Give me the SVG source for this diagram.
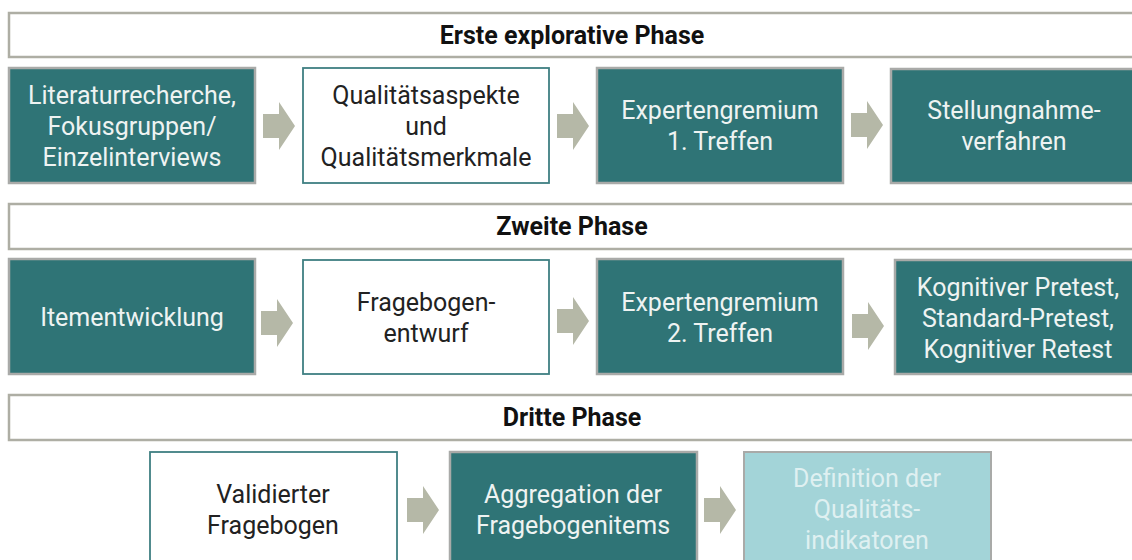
<svg xmlns="http://www.w3.org/2000/svg" width="1132" height="560" viewBox="0 0 1132 560">
<defs>
<style>
.bar{fill:#ffffff;stroke:#aeaea4;stroke-width:2.5}
.dark{fill:#2f7476;stroke:#a9aaa8;stroke-width:2.5}
.light{fill:#ffffff;stroke:#3f7f82;stroke-width:1.8}
.pale{fill:#a3d4d8;stroke:#a9aaa8;stroke-width:2}
.ttl{font-family:Roboto,"Liberation Sans",sans-serif;font-weight:bold;font-size:25px;fill:#111;text-anchor:middle}
.tw{font-family:Roboto,"Liberation Sans",sans-serif;font-size:25px;fill:#eef3f2;text-anchor:middle}
.tb{font-family:Roboto,"Liberation Sans",sans-serif;font-size:25px;fill:#222;text-anchor:middle}
.tp{font-family:Roboto,"Liberation Sans",sans-serif;font-size:25px;fill:#dff0f1;text-anchor:middle}
.arr{fill:#b5b8a7}
</style>
<path id="ar" d="M0,12 H16 V0 L32,24 L16,48 V36 H0 Z"/>
</defs>

<g id="phase1">
<rect class="bar" x="9" y="13" width="1130" height="44"/>
<text class="ttl" x="572" y="44">Erste explorative Phase</text>
</g>
<g id="phase2">
<rect class="bar" x="9" y="204" width="1130" height="45"/>
<text class="ttl" x="572" y="235">Zweite Phase</text>
</g>
<g id="phase3">
<rect class="bar" x="9" y="395" width="1130" height="45"/>
<text class="ttl" x="572" y="426">Dritte Phase</text>
</g>

<g id="n1">
<rect class="dark" x="9" y="68" width="246" height="115"/>
<text class="tw" x="132" y="104">Literaturrecherche,</text>
<text class="tw" x="132" y="135">Fokusgruppen/</text>
<text class="tw" x="132" y="166">Einzelinterviews</text>
</g>
<g id="n2">
<rect class="light" x="303" y="68" width="246" height="115"/>
<text class="tb" x="426" y="104">Qualitätsaspekte</text>
<text class="tb" x="426" y="135">und</text>
<text class="tb" x="426" y="166">Qualitätsmerkmale</text>
</g>
<g id="n3">
<rect class="dark" x="597" y="68" width="246" height="115"/>
<text class="tw" x="720" y="119">Expertengremium</text>
<text class="tw" x="720" y="150">1. Treffen</text>
</g>
<g id="n4">
<rect class="dark" x="891" y="69" width="248" height="114"/>
<text class="tw" x="1014" y="119">Stellungnahme-</text>
<text class="tw" x="1014" y="150">verfahren</text>
</g>

<g id="n5">
<rect class="dark" x="9" y="259" width="246" height="115"/>
<text class="tw" x="132" y="326">Itementwicklung</text>
</g>
<g id="n6">
<rect class="light" x="303" y="260" width="246" height="114"/>
<text class="tb" x="426" y="311">Fragebogen-</text>
<text class="tb" x="426" y="342">entwurf</text>
</g>
<g id="n7">
<rect class="dark" x="597" y="259" width="246" height="115"/>
<text class="tw" x="720" y="311">Expertengremium</text>
<text class="tw" x="720" y="342">2. Treffen</text>
</g>
<g id="n8">
<rect class="dark" x="895" y="260" width="248" height="114"/>
<text class="tw" x="1018" y="296">Kognitiver Pretest,</text>
<text class="tw" x="1018" y="327">Standard-Pretest,</text>
<text class="tw" x="1018" y="358">Kognitiver Retest</text>
</g>

<g id="n9">
<rect class="light" x="150" y="452" width="247" height="115"/>
<text class="tb" x="273" y="503">Validierter</text>
<text class="tb" x="273" y="534">Fragebogen</text>
</g>
<g id="n10">
<rect class="dark" x="450" y="452" width="247" height="115"/>
<text class="tw" x="573" y="503">Aggregation der</text>
<text class="tw" x="573" y="534">Fragebogenitems</text>
</g>
<g id="n11">
<rect class="pale" x="744" y="452" width="247" height="115"/>
<text class="tp" x="867" y="487">Definition der</text>
<text class="tp" x="867" y="518">Qualitäts-</text>
<text class="tp" x="867" y="549">indikatoren</text>
</g>

<g id="connectors">
<use href="#ar" class="arr" x="263" y="102"/>
<use href="#ar" class="arr" x="557" y="102"/>
<use href="#ar" class="arr" x="851" y="101"/>
<use href="#ar" class="arr" x="261" y="299"/>
<use href="#ar" class="arr" x="557" y="297"/>
<use href="#ar" class="arr" x="852" y="302"/>
<use href="#ar" class="arr" x="407" y="486"/>
<use href="#ar" class="arr" x="704" y="486"/>
</g>
</svg>
